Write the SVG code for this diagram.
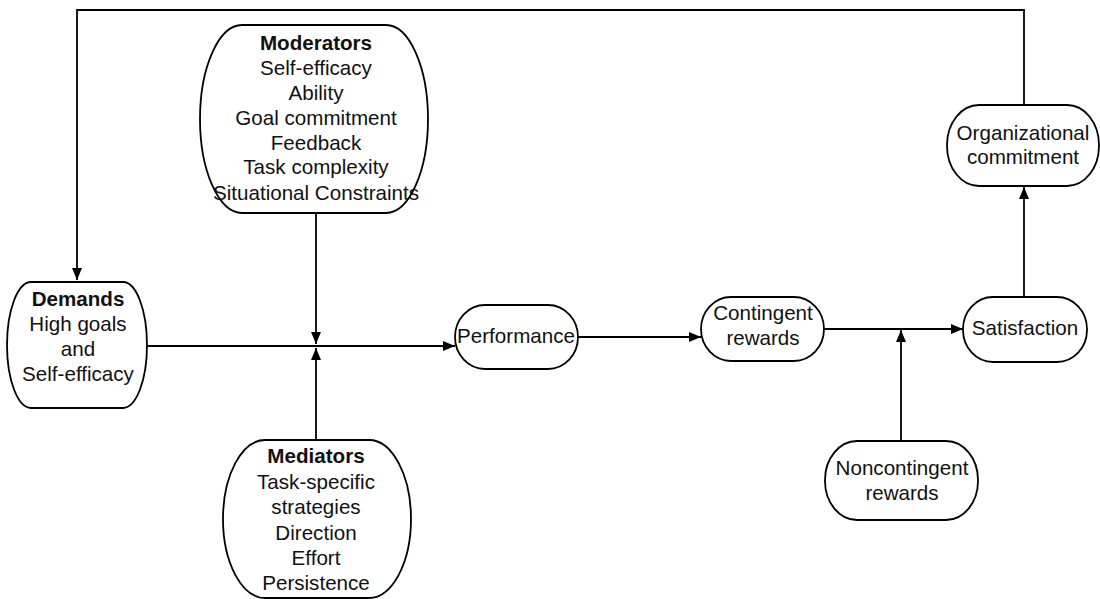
<svg xmlns="http://www.w3.org/2000/svg" width="1100" height="599" viewBox="0 0 1100 599">
  <defs>
    <marker id="arrow" viewBox="0 0 12 10" refX="12" refY="5" markerWidth="12" markerHeight="10" markerUnits="userSpaceOnUse" orient="auto">
      <path d="M0,0 L12,5 L0,10 Z" fill="#000"/>
    </marker>
    <style>
      .box { fill: #fff; stroke: #000; stroke-width: 1.8; }
      .link { fill: none; stroke: #000; stroke-width: 1.8; }
      text { font-family: "Liberation Sans", Arial, sans-serif; font-size: 20.6px; fill: #111; text-anchor: middle; dominant-baseline: central; }
      .title { font-weight: bold; }
    </style>
  </defs>
  <rect width="1100" height="599" fill="#fff"/>

  <g id="connectors">
    <!-- feedback loop: organizational commitment back to demands -->
    <path class="link" d="M1024,105 V10 H77 V280" marker-end="url(#arrow)"/>
    <!-- demands to performance -->
    <path class="link" d="M147,346 H455" marker-end="url(#arrow)"/>
    <!-- moderators into the demands-performance link -->
    <path class="link" d="M316,213 V344" marker-end="url(#arrow)"/>
    <!-- mediators into the demands-performance link -->
    <path class="link" d="M316,440 V348" marker-end="url(#arrow)"/>
    <!-- performance to contingent rewards -->
    <path class="link" d="M578,337 H701" marker-end="url(#arrow)"/>
    <!-- contingent rewards to satisfaction -->
    <path class="link" d="M824,329 H963" marker-end="url(#arrow)"/>
    <!-- noncontingent rewards into the rewards-satisfaction link -->
    <path class="link" d="M901,441 V330" marker-end="url(#arrow)"/>
    <!-- satisfaction to organizational commitment -->
    <path class="link" d="M1024,297 V187" marker-end="url(#arrow)"/>
  </g>

  <g id="moderators">
    <rect class="box" x="200" y="25" width="228" height="188" rx="42" ry="94"/>
    <text class="title" x="316" y="42">Moderators</text>
    <text x="316" y="67">Self-efficacy</text>
    <text x="316" y="92">Ability</text>
    <text x="316" y="117">Goal commitment</text>
    <text x="316" y="142">Feedback</text>
    <text x="316" y="166">Task complexity</text>
    <text x="316" y="192">Situational Constraints</text>
  </g>

  <g id="demands">
    <rect class="box" x="7" y="282" width="140" height="126" rx="24" ry="63"/>
    <text class="title" x="78" y="298">Demands</text>
    <text x="78" y="323">High goals</text>
    <text x="78" y="348">and</text>
    <text x="78" y="373">Self-efficacy</text>
  </g>

  <g id="mediators">
    <rect class="box" x="223" y="440" width="188" height="158" rx="42" ry="79"/>
    <text class="title" x="316" y="455">Mediators</text>
    <text x="316" y="481">Task-specific</text>
    <text x="316" y="506">strategies</text>
    <text x="316" y="532">Direction</text>
    <text x="316" y="557">Effort</text>
    <text x="316" y="582">Persistence</text>
  </g>

  <g id="performance">
    <rect class="box" x="455" y="305" width="123" height="64" rx="30" ry="32"/>
    <text x="516" y="335">Performance</text>
  </g>

  <g id="contingent-rewards">
    <rect class="box" x="701" y="297" width="123" height="64" rx="30" ry="32"/>
    <text x="763" y="312">Contingent</text>
    <text x="763" y="337">rewards</text>
  </g>

  <g id="satisfaction">
    <rect class="box" x="963" y="297" width="124" height="65" rx="30" ry="32"/>
    <text x="1025" y="327">Satisfaction</text>
  </g>

  <g id="organizational-commitment">
    <rect class="box" x="947" y="105" width="152" height="81" rx="32" ry="40"/>
    <text x="1023" y="132">Organizational</text>
    <text x="1023" y="156">commitment</text>
  </g>

  <g id="noncontingent-rewards">
    <rect class="box" x="825" y="441" width="153" height="79" rx="32" ry="39"/>
    <text x="902" y="467">Noncontingent</text>
    <text x="902" y="492">rewards</text>
  </g>
</svg>
